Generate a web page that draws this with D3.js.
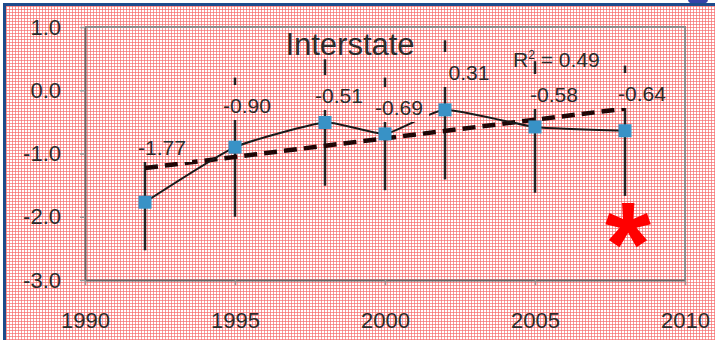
<!DOCTYPE html>
<html>
<head>
<meta charset="utf-8">
<script src="https://cdn.jsdelivr.net/npm/d3@7"></script>
<style>
  body { margin: 0; background: #fff; }
  text { font-family: "Liberation Sans", Arial, sans-serif; fill: #2b2b2b; }
</style>
</head>
<body>
<div id="chart"></div>
<script>
// data
const years = [1992, 1995, 1998, 2000, 2002, 2005, 2008];
const values = [-1.77, -0.90, -0.51, -0.69, -0.31, -0.58, -0.64];
const errors = [0.76, 1.10, 1.00, 0.89, 1.10, 1.04, 1.03];
const pointLabels = ["-1.77", "-0.90", "-0.51", "-0.69", "0.31", "-0.58", "-0.64"];
const trendYears = [1992, 2008];
const trendValues = [-1.23, -0.29];
const xTicks = [1990, 1995, 2000, 2005, 2010];
const yTicks = [-3, -2, -1, 0, 1];
const chartTitle = "Interstate";
const rSquared = "0.49";

// layout: label offsets from their point (centre dx, baseline dy)
const labelNudge = [[17, -47], [12, -34], [14, -20], [14, -19], [24, -30], [19, -25], [17, -30]];

let svg = null;
let x = null,
    y = null;
const plot = {left: 85, right: 685, top: 27, bottom: 280};

renderChart();

function renderChart() {
  appendSvg("#chart");
  setupScales();
  appendFrame();
  appendAxes();
  appendErrorBars();
  appendTrendLine();
  appendSeriesLine();
  appendMarkers();
  appendPointLabels();
  appendTitles();
}

/**
 * @method appendSvg
 * @description Svg with the pink grid background and the blue slide border
 */
function appendSvg(domElement) {
  svg = d3.select(domElement)
    .append("svg")
    .attr("width", 715)
    .attr("height", 340);

  let pattern = svg.append("defs").append("pattern")
    .attr("id", "grid")
    .attr("patternUnits", "userSpaceOnUse")
    .attr("width", 3)
    .attr("height", 3);
  pattern.append("rect").attr("width", 3).attr("height", 3).attr("fill", "#fff");
  pattern.append("rect").attr("width", 1).attr("height", 3).attr("fill", "#f76d6d").attr("opacity", 0.7);
  pattern.append("rect").attr("width", 3).attr("height", 1).attr("fill", "#f76d6d").attr("opacity", 0.7);

  svg.append("rect")
    .attr("x", 6).attr("y", 6)
    .attr("width", 709).attr("height", 334)
    .attr("fill", "url(#grid)");

  svg.append("ellipse")
    .attr("cx", 698).attr("cy", 0)
    .attr("rx", 10).attr("ry", 5)
    .attr("fill", "#3443a8");
  svg.append("rect").attr("x", 4).attr("y", 3).attr("width", 711).attr("height", 3).attr("fill", "#1d4c8c");
  svg.append("rect").attr("x", 3).attr("y", 3).attr("width", 3).attr("height", 337).attr("fill", "#1d4c8c");
}

function setupScales() {
  x = d3.scaleLinear().domain([1990, 2010]).range([plot.left, plot.right]);
  y = d3.scaleLinear().domain([-3, 1]).range([plot.bottom, plot.top]);
}

/**
 * @method appendFrame
 * @description Grey plot-area border on the top and right sides
 */
function appendFrame() {
  svg.append("path")
    .attr("d", `M${plot.left},${plot.top}H${plot.right}V${plot.bottom}`)
    .attr("fill", "none")
    .attr("stroke", "#8c8c8c")
    .attr("stroke-width", 2);
}

function appendAxes() {
  let yAxis = svg.append("g")
    .attr("transform", `translate(${plot.left},0)`)
    .call(d3.axisLeft(y)
      .tickValues(yTicks)
      .tickSize(5)
      .tickSizeOuter(0)
      .tickPadding(19)
      .tickFormat(d => d.toFixed(1)));

  let xAxis = svg.append("g")
    .attr("transform", `translate(0,${plot.bottom})`)
    .call(d3.axisBottom(x)
      .tickValues(xTicks)
      .tickSize(5)
      .tickSizeOuter(0)
      .tickPadding(27)
      .tickFormat(d3.format("d")));

  [yAxis, xAxis].forEach(function(axis) {
    axis.select(".domain").attr("stroke", "#666").attr("stroke-width", 2);
    axis.selectAll(".tick line").attr("stroke", "#999").attr("stroke-width", 1.5);
    axis.selectAll(".tick text")
      .attr("fill", "#2b2b2b")
      .style("font-size", "22px")
      .style("font-family", "'Liberation Sans', Arial, sans-serif");
  });
}

function appendErrorBars() {
  svg.append("g")
    .selectAll("line")
    .data(years)
    .enter().append("line")
    .attr("x1", d => x(d))
    .attr("x2", d => x(d))
    .attr("y1", (d, i) => y(values[i] + errors[i]))
    .attr("y2", (d, i) => y(values[i] - errors[i]))
    .attr("stroke", "#222")
    .attr("stroke-width", 2.5);
}

function appendTrendLine() {
  let line = d3.line()
    .x(d => x(d))
    .y((d, i) => y(trendValues[i]));

  svg.append("path")
    .datum(trendYears)
    .attr("d", line)
    .attr("fill", "none")
    .attr("stroke", "#1e0606")
    .attr("stroke-width", 4.5)
    .attr("stroke-dasharray", "13,7");
}

function appendSeriesLine() {
  let line = d3.line()
    .x(d => x(d))
    .y((d, i) => y(values[i]))
    .curve(d3.curveCardinal.tension(0.5));

  svg.append("path")
    .datum(years)
    .attr("d", line)
    .attr("fill", "none")
    .attr("stroke", "#1a1a1a")
    .attr("stroke-width", 2);
}

function appendMarkers() {
  let size = 13;
  svg.append("g")
    .selectAll("rect")
    .data(years)
    .enter().append("rect")
    .attr("x", d => x(d) - size / 2)
    .attr("y", (d, i) => y(values[i]) - size / 2)
    .attr("width", size)
    .attr("height", size)
    .attr("fill", "#3892c6");
}

/**
 * @method appendPointLabels
 * @description Value labels above the points; their boxes share the background so they hide the error bars
 */
function appendPointLabels() {
  let cx = (d, i) => Math.round(x(d) + labelNudge[i][0]);
  let base = (d, i) => Math.round(y(values[i]) + labelNudge[i][1]);
  let labels = svg.append("g");

  labels.selectAll("rect")
    .data(years)
    .enter().append("rect")
    .attr("x", (d, i) => cx(d, i) - 30)
    .attr("y", (d, i) => base(d, i) - 28)
    .attr("width", 60)
    .attr("height", 35)
    .attr("fill", "url(#grid)");

  labels.selectAll("text")
    .data(years)
    .enter().append("text")
    .attr("x", cx)
    .attr("y", base)
    .attr("text-anchor", "middle")
    .style("font-size", "21px")
    .text((d, i) => pointLabels[i]);
}

function appendTitles() {
  svg.append("text")
    .attr("x", 350)
    .attr("y", 55)
    .attr("text-anchor", "middle")
    .style("font-size", "31px")
    .text(chartTitle);

  let r2 = svg.append("text")
    .attr("x", 513)
    .attr("y", 67)
    .style("font-size", "21px");
  r2.append("tspan").text("R");
  r2.append("tspan").attr("dy", -8).style("font-size", "12px").text("2");
  r2.append("tspan").attr("dy", 8).text(" = " + rSquared);

  svg.append("text")
    .attr("x", 628)
    .attr("y", 285)
    .attr("text-anchor", "middle")
    .style("font-size", "118px")
    .style("font-weight", "bold")
    .style("fill", "#ff0000")
    .text("*");
}
</script>
</body>
</html>
